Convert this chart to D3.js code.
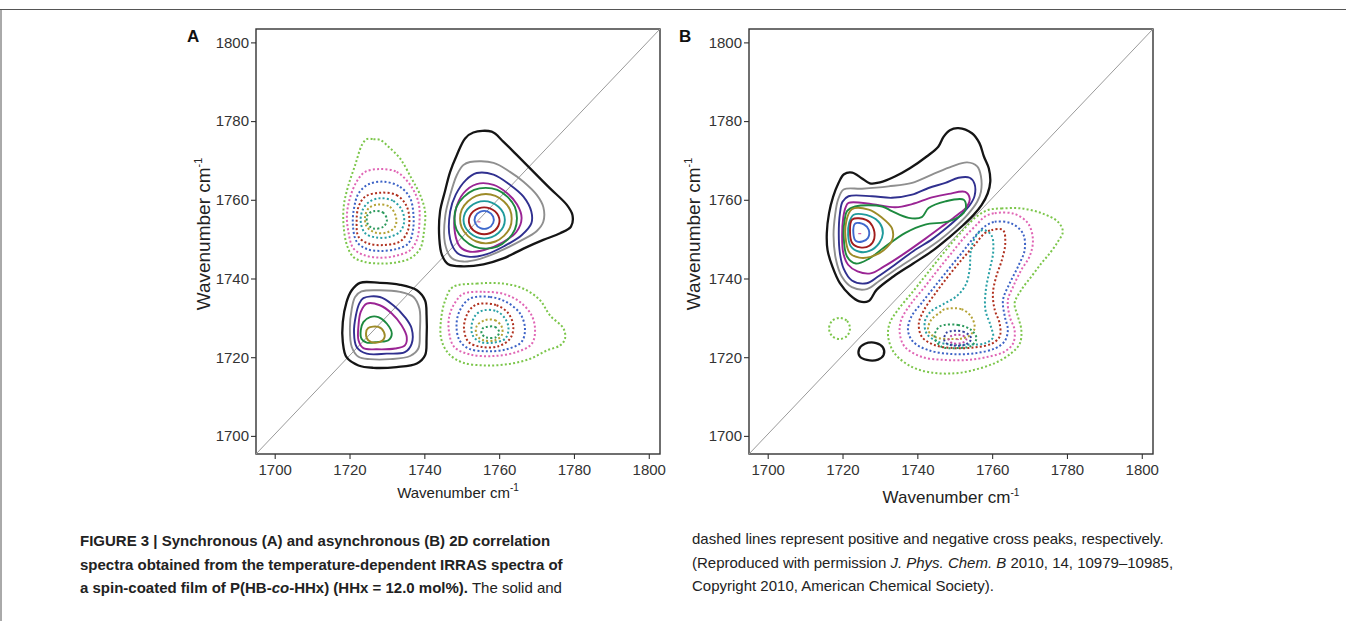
<!DOCTYPE html>
<html>
<head>
<meta charset="utf-8">
<script src="https://cdn.jsdelivr.net/npm/d3@7"></script>
<style>
  body { margin: 0; background: #fff; }
  svg { display: block; font-family: "Liberation Sans", Arial, Helvetica, sans-serif; }
</style>
</head>
<body>
<svg id="fig" width="1346" height="621"></svg>
<script>
// ---- data (wavenumbers, cm-1) ----
var axisTicks = [1700, 1720, 1740, 1760, 1780, 1800];
var axisDomainX = [1695, 1803];
var axisDomainY = [1695.4, 1803.4];

// synchronous map (A): auto peak at 1755/1755
var syncAutoHigh = [
  {level: 1, ring: [[1753.1,1777.1],[1758.0,1777.3],[1761.1,1774.8],[1764.7,1771.4],[1769.2,1767.1],[1773.6,1762.9],[1778.1,1758.7],[1779.6,1756.1],[1779.2,1753.2],[1776.3,1751.5],[1771.8,1749.8],[1766.5,1747.6],[1761.1,1745.1],[1755.8,1743.6],[1750.4,1743.1],[1746.4,1743.6],[1744.7,1746.0],[1744.0,1750.2],[1744.2,1757.0],[1745.5,1762.1],[1746.9,1767.1],[1748.7,1771.4],[1750.9,1775.6]]},
  {level: 2, ring: [[1752.2,1769.6],[1758.5,1769.4],[1762.9,1767.1],[1766.5,1764.6],[1770.1,1761.2],[1771.8,1758.2],[1771.8,1754.4],[1770.0,1752.0],[1765.6,1749.5],[1760.3,1747.0],[1754.9,1745.0],[1750.4,1744.3],[1747.3,1745.2],[1745.5,1749.0],[1745.6,1756.0],[1746.9,1761.2],[1748.7,1766.3],[1750.4,1768.8]]},
  {level: 3, ring: [[1754.0,1766.8],[1758.5,1766.4],[1762.9,1763.8],[1766.5,1760.8],[1768.6,1757.0],[1768.6,1754.0],[1766.0,1751.0],[1761.3,1748.2],[1756.7,1746.2],[1752.2,1745.5],[1748.8,1746.5],[1746.9,1750.0],[1746.9,1757.0],[1748.4,1761.3],[1751.1,1765.0]]},
  {level: 4, ring: [[1754.0,1764.0],[1758.5,1763.8],[1762.0,1761.8],[1764.8,1758.8],[1766.0,1755.3],[1764.6,1751.8],[1761.0,1749.2],[1756.2,1747.3],[1752.2,1746.8],[1749.6,1748.0],[1748.2,1751.5],[1748.4,1757.5],[1750.4,1761.6]]},
  {level: 5, ring: [[1753.3,1762.5],[1759.5,1762.5],[1764.2,1758.2],[1764.2,1752.4],[1759.5,1748.1],[1753.3,1748.1],[1748.6,1752.4],[1748.6,1758.2]]},
  {level: 6, ring: [[1753.9,1761.0],[1759.0,1761.0],[1762.9,1757.5],[1762.9,1752.9],[1759.0,1749.4],[1753.9,1749.4],[1750.0,1752.9],[1750.0,1757.5]]},
  {level: 7, ring: [[1754.0,1759.3],[1758.0,1759.3],[1761.1,1756.7],[1761.1,1753.1],[1758.0,1750.5],[1754.0,1750.5],[1750.9,1753.1],[1750.9,1756.7]]},
  {level: 8, ring: [[1754.5,1757.8],[1757.5,1757.8],[1759.8,1755.9],[1759.8,1753.4],[1757.5,1751.5],[1754.5,1751.5],[1752.2,1753.4],[1752.2,1755.9]]},
  {level: 9, ring: [[1755.0,1757.0],[1757.0,1757.0],[1758.4,1755.7],[1758.4,1754.1],[1757.0,1752.8],[1755.0,1752.8],[1753.6,1754.1],[1753.6,1755.7]]}
];

// synchronous map (A): auto peak at 1725/1725
var syncAutoLow = [
  {level: 1, ring: [[1722.8,1738.9],[1728.1,1738.9],[1733.5,1738.4],[1738.0,1737.0],[1740.2,1734.4],[1740.6,1730.6],[1740.6,1724.7],[1740.2,1720.5],[1738.0,1718.4],[1732.6,1717.5],[1726.4,1717.3],[1722.4,1717.9],[1719.2,1720.0],[1718.2,1723.9],[1718.2,1728.9],[1719.2,1734.0],[1720.6,1737.0]]},
  {level: 2, ring: [[1723.2,1736.7],[1728.1,1737.0],[1733.5,1736.6],[1737.1,1735.3],[1738.7,1732.3],[1738.8,1726.4],[1738.4,1722.2],[1736.2,1720.3],[1730.8,1719.5],[1725.5,1719.5],[1722.4,1720.1],[1720.6,1722.6],[1720.1,1727.3],[1720.6,1732.3],[1721.5,1735.3]]},
  {level: 3, ring: [[1723.7,1735.0],[1728.1,1735.3],[1731.7,1733.2],[1734.8,1730.2],[1736.6,1727.3],[1736.6,1723.4],[1734.8,1721.3],[1729.9,1720.9],[1724.6,1720.9],[1721.9,1722.6],[1721.2,1726.4],[1721.7,1730.6],[1722.6,1733.6]]},
  {level: 4, ring: [[1724.6,1733.6],[1728.1,1733.2],[1731.3,1731.1],[1733.9,1728.1],[1735.3,1725.1],[1734.8,1723.0],[1732.2,1722.2],[1727.3,1722.0],[1723.7,1722.3],[1722.4,1724.3],[1722.4,1728.1],[1723.0,1731.5]]},
  {level: 5, ring: [[1725.5,1730.2],[1727.7,1730.2],[1730.0,1728.5],[1731.3,1726.0],[1730.4,1724.3],[1727.7,1723.9],[1724.6,1723.7],[1723.2,1724.7],[1723.0,1726.8],[1723.7,1728.9]]},
  {level: 6, ring: [[1725.0,1727.4],[1727.7,1727.7],[1729.2,1726.4],[1729.2,1724.7],[1727.3,1723.7],[1725.0,1724.3],[1724.4,1726.0]]}
];

// synchronous map (A): cross peak at 1725/1755 (negative)
var syncCrossUpper = [
  {level: -1, ring: [[1724.6,1775.4],[1726.4,1775.4],[1728.2,1775.2],[1730.4,1773.5],[1733.5,1770.5],[1736.6,1765.4],[1738.9,1761.2],[1740.2,1757.0],[1739.9,1751.9],[1738.9,1747.6],[1736.2,1745.1],[1732.6,1744.1],[1728.2,1743.8],[1723.7,1744.3],[1721.0,1745.5],[1719.3,1748.5],[1718.4,1753.6],[1718.5,1758.7],[1719.7,1763.7],[1721.5,1768.8],[1723.3,1773.9]]},
  {level: -2, ring: [[1728.2,1767.8],[1732.6,1767.1],[1736.2,1763.8],[1738.4,1759.5],[1738.7,1754.4],[1738.0,1749.8],[1736.2,1747.2],[1732.6,1745.8],[1728.2,1745.3],[1723.7,1746.0],[1721.0,1747.7],[1719.7,1751.9],[1719.3,1756.1],[1720.1,1760.4],[1721.9,1764.6],[1724.2,1767.1]]},
  {level: -3, ring: [[1729.1,1764.6],[1733.5,1763.3],[1736.2,1760.4],[1737.1,1756.1],[1736.9,1751.9],[1735.7,1748.9],[1732.6,1747.5],[1728.2,1747.0],[1724.6,1747.5],[1721.9,1749.4],[1720.9,1753.6],[1721.2,1757.8],[1722.4,1761.6],[1725.0,1763.9]]},
  {level: -4, ring: [[1728.2,1761.8],[1732.6,1761.2],[1735.1,1758.7],[1736.0,1755.3],[1735.5,1751.9],[1733.5,1749.4],[1729.1,1748.5],[1725.0,1748.9],[1722.4,1750.6],[1721.9,1754.4],[1722.4,1758.2],[1724.2,1760.8]]},
  {level: -5, ring: [[1728.2,1760.4],[1731.7,1759.7],[1734.0,1757.4],[1734.6,1754.4],[1733.5,1751.9],[1730.8,1750.6],[1727.3,1750.4],[1724.2,1751.5],[1723.0,1754.4],[1723.5,1757.4],[1725.3,1759.5]]},
  {level: -6, ring: [[1727.7,1758.8],[1730.8,1758.2],[1732.4,1755.7],[1732.2,1753.2],[1730.0,1751.7],[1726.8,1751.7],[1724.6,1753.2],[1724.2,1756.0],[1725.3,1758.0]]},
  {level: -7, ring: [[1726.4,1757.1],[1728.9,1756.8],[1730.0,1754.9],[1729.1,1753.2],[1726.4,1752.7],[1724.8,1754.0],[1724.8,1756.1]]}
];

// synchronous map (A): cross peak at 1755/1725 (negative)
var syncCrossLower = [
  {level: -1, ring: [[1747.6,1737.8],[1754.0,1738.7],[1761.1,1738.7],[1766.5,1737.4],[1770.9,1734.5],[1773.6,1730.6],[1777.2,1727.3],[1777.6,1724.7],[1776.3,1723.0],[1772.7,1721.7],[1768.3,1719.6],[1762.9,1718.3],[1756.7,1717.9],[1750.4,1718.6],[1746.5,1720.9],[1744.5,1724.7],[1744.5,1729.8],[1745.6,1734.5]]},
  {level: -2, ring: [[1750.4,1736.1],[1755.8,1736.6],[1761.1,1736.1],[1765.6,1734.0],[1768.7,1730.6],[1769.6,1726.8],[1768.7,1723.4],[1764.7,1721.3],[1758.4,1720.3],[1752.2,1720.7],[1748.0,1722.6],[1746.6,1726.4],[1746.7,1730.6],[1748.3,1734.0]]},
  {level: -3, ring: [[1752.2,1734.9],[1757.6,1735.3],[1762.0,1734.0],[1765.6,1731.1],[1766.9,1727.3],[1766.0,1723.9],[1762.0,1722.0],[1756.7,1721.5],[1751.8,1722.2],[1749.4,1724.3],[1748.6,1728.1],[1749.5,1731.9]]},
  {level: -4, ring: [[1754.9,1733.6],[1759.3,1733.2],[1762.5,1731.1],[1763.8,1727.7],[1762.9,1724.7],[1759.8,1722.8],[1755.3,1722.6],[1751.8,1723.9],[1750.6,1727.3],[1751.3,1730.6],[1752.9,1732.8]]},
  {level: -5, ring: [[1755.8,1731.9],[1759.3,1731.7],[1761.6,1729.8],[1762.5,1727.3],[1761.6,1724.7],[1758.4,1723.7],[1754.9,1723.9],[1752.9,1725.6],[1752.7,1728.5],[1753.8,1730.8]]},
  {level: -6, ring: [[1756.2,1729.4],[1758.9,1729.4],[1760.7,1727.7],[1760.7,1725.6],[1758.9,1724.3],[1755.8,1724.3],[1754.0,1725.6],[1754.0,1727.9]]},
  {level: -7, ring: [[1756.7,1727.7],[1758.9,1727.7],[1760.0,1726.4],[1759.2,1725.1],[1756.7,1725.0],[1755.3,1726.0],[1755.6,1727.3]]}
];

// asynchronous map (B): positive band above the diagonal
var asyncPositive = [
  {level: 1, ring: [[1751.0,1778.2],[1754.6,1776.9],[1756.6,1774.4],[1757.8,1771.0],[1759.1,1768.0],[1759.5,1764.6],[1758.8,1761.6],[1757.2,1758.7],[1755.0,1756.1],[1752.3,1753.6],[1748.7,1750.6],[1744.3,1747.2],[1738.9,1743.8],[1733.6,1740.5],[1729.1,1737.1],[1727.0,1734.3],[1724.5,1734.2],[1722.0,1735.8],[1719.3,1738.8],[1717.3,1743.0],[1716.0,1747.2],[1715.8,1751.5],[1716.4,1756.6],[1717.5,1760.8],[1718.9,1764.2],[1720.4,1766.5],[1722.6,1766.9],[1725.1,1765.5],[1727.3,1764.2],[1730.0,1764.4],[1734.0,1765.9],[1738.0,1768.0],[1742.5,1771.0],[1745.6,1773.5],[1747.0,1776.0],[1748.7,1777.7]]},
  {level: 2, ring: [[1720.3,1762.6],[1725.2,1762.8],[1732.3,1763.4],[1738.6,1764.3],[1743.9,1766.4],[1749.3,1768.5],[1753.3,1769.5],[1756.0,1768.5],[1757.0,1766.0],[1757.0,1762.0],[1756.0,1759.5],[1753.5,1756.3],[1750.0,1753.0],[1746.0,1749.8],[1741.0,1746.5],[1735.0,1742.8],[1730.0,1739.5],[1726.5,1737.3],[1722.5,1737.8],[1719.8,1740.5],[1718.2,1745.0],[1717.6,1751.0],[1718.0,1756.0],[1718.8,1760.0]]},
  {level: 3, ring: [[1721.6,1760.9],[1727.9,1760.9],[1733.2,1760.5],[1738.6,1761.3],[1743.0,1763.0],[1747.5,1764.3],[1751.0,1765.6],[1754.0,1765.6],[1755.3,1764.0],[1755.3,1761.0],[1754.0,1758.6],[1751.5,1756.0],[1748.0,1753.0],[1744.0,1750.0],[1739.0,1747.0],[1734.0,1743.5],[1729.5,1740.5],[1726.5,1738.8],[1722.5,1739.5],[1720.3,1742.5],[1719.3,1746.4],[1719.0,1751.5],[1719.3,1756.5],[1720.0,1759.5]]},
  {level: 4, ring: [[1721.6,1759.2],[1727.9,1758.9],[1734.1,1758.1],[1738.6,1758.9],[1743.9,1760.6],[1748.4,1761.5],[1752.8,1762.0],[1754.0,1760.3],[1753.3,1758.3],[1750.5,1756.0],[1747.0,1753.5],[1742.0,1750.0],[1736.0,1746.0],[1731.0,1743.0],[1727.5,1741.3],[1724.0,1741.8],[1721.5,1743.5],[1720.2,1746.5],[1719.9,1751.0],[1720.2,1755.5],[1720.8,1758.0]]},
  {level: 5, ring: [[1721.2,1757.1],[1723.4,1758.3],[1730.6,1758.3],[1733.2,1757.1],[1737.7,1755.4],[1741.2,1755.6],[1743.0,1757.9],[1747.5,1759.6],[1752.4,1760.0],[1753.0,1758.1],[1752.4,1756.7],[1748.4,1754.5],[1742.1,1753.7],[1736.8,1751.6],[1731.0,1747.8],[1727.0,1745.0],[1723.6,1743.8],[1721.2,1745.6],[1720.3,1751.0],[1720.6,1755.0]]},
  {level: 6, ring: [[1722.5,1757.6],[1727.0,1757.5],[1730.5,1755.5],[1733.2,1752.8],[1733.3,1749.8],[1731.0,1747.2],[1727.5,1745.5],[1724.5,1745.3],[1722.0,1746.4],[1721.0,1749.0],[1721.0,1754.5]]},
  {level: 7, ring: [[1723.0,1756.2],[1727.5,1755.8],[1730.0,1754.0],[1730.8,1751.5],[1729.8,1749.0],[1727.2,1747.0],[1724.5,1746.8],[1722.2,1748.2],[1721.5,1751.0],[1721.8,1754.2]]},
  {level: 8, ring: [[1722.6,1755.0],[1726.3,1754.9],[1728.0,1753.3],[1728.5,1750.2],[1727.2,1748.3],[1724.7,1747.9],[1722.6,1749.0],[1722.0,1752.0]]},
  {level: 9, ring: [[1723.4,1754.0],[1725.8,1753.7],[1727.0,1752.4],[1726.8,1750.3],[1725.3,1749.4],[1723.6,1749.5],[1722.9,1751.5]]}
];

// asynchronous map (B): negative band below the diagonal
var asyncNegative = [
  {level: -1, ring: [[1758.9,1757.4],[1762.5,1757.8],[1767.8,1757.8],[1773.2,1756.6],[1777.6,1754.4],[1778.9,1751.9],[1777.6,1749.4],[1775.4,1746.4],[1773.2,1743.9],[1770.5,1740.5],[1767.8,1737.1],[1766.0,1733.7],[1766.9,1730.3],[1767.8,1726.9],[1767.4,1723.5],[1765.1,1721.0],[1760.7,1718.5],[1755.3,1716.8],[1750.0,1715.9],[1743.7,1716.1],[1738.4,1717.6],[1733.9,1721.0],[1732.2,1725.2],[1732.6,1728.6],[1734.8,1732.0],[1738.4,1736.2],[1742.0,1740.5],[1745.5,1744.7],[1749.1,1748.9],[1752.7,1752.8],[1755.8,1755.7]]},
  {level: -2, ring: [[1758.0,1755.7],[1760.7,1756.6],[1766.0,1756.4],[1769.6,1754.0],[1770.9,1749.8],[1770.0,1745.6],[1767.8,1742.2],[1765.6,1737.9],[1764.2,1734.5],[1764.7,1730.3],[1766.0,1726.9],[1765.6,1723.5],[1763.3,1721.4],[1758.9,1720.1],[1753.5,1719.3],[1747.3,1719.3],[1741.1,1720.1],[1736.6,1722.7],[1735.3,1726.1],[1735.7,1729.5],[1738.4,1733.7],[1742.0,1737.9],[1745.5,1742.2],[1749.1,1746.4],[1752.7,1750.6],[1756.2,1754.0]]},
  {level: -3, ring: [[1758.0,1753.2],[1760.7,1754.4],[1765.1,1754.0],[1768.2,1751.5],[1768.7,1747.3],[1766.9,1743.0],[1764.7,1738.8],[1762.9,1734.5],[1763.4,1730.3],[1764.2,1726.9],[1763.3,1724.0],[1760.7,1722.2],[1755.3,1721.0],[1749.1,1720.8],[1742.9,1721.8],[1738.8,1724.0],[1737.5,1726.9],[1738.4,1730.3],[1741.1,1733.7],[1744.6,1737.9],[1748.2,1742.2],[1751.8,1746.4],[1755.3,1750.6]]},
  {level: -4, ring: [[1758.0,1751.5],[1759.8,1752.3],[1762.9,1752.3],[1763.5,1748.9],[1762.6,1744.7],[1761.1,1740.5],[1760.2,1736.2],[1760.7,1732.0],[1762.0,1728.6],[1762.0,1725.2],[1759.8,1723.4],[1755.3,1722.5],[1750.0,1722.3],[1744.6,1723.1],[1741.2,1725.2],[1740.4,1728.6],[1741.8,1732.0],[1744.8,1736.2],[1748.2,1740.5],[1751.8,1744.7],[1755.3,1748.5]]},
  {level: -5, ring: [[1757.5,1752.3],[1759.8,1751.0],[1760.3,1747.0],[1759.3,1742.0],[1758.3,1737.0],[1758.2,1732.0],[1759.6,1728.0],[1760.2,1725.0],[1758.0,1723.5],[1754.0,1723.2],[1749.0,1723.2],[1745.3,1724.0],[1742.5,1726.0],[1742.0,1729.0],[1743.5,1731.5],[1747.0,1733.5],[1750.5,1735.5],[1753.0,1738.5],[1754.0,1742.5],[1754.3,1747.0],[1755.5,1750.5]]},
  {level: -6, ring: [[1747.3,1732.2],[1751.8,1732.2],[1754.4,1730.3],[1755.3,1727.3],[1753.5,1725.2],[1749.1,1724.6],[1744.6,1725.2],[1742.9,1726.9],[1743.7,1729.5],[1746.0,1731.3]]},
  {level: -7, ring: [[1746.0,1727.8],[1750.9,1728.2],[1754.4,1726.9],[1755.8,1724.8],[1754.4,1722.9],[1750.0,1722.3],[1746.4,1722.7],[1744.6,1725.2]]},
  {level: -8, ring: [[1747.8,1726.2],[1752.2,1726.5],[1754.4,1724.8],[1753.1,1723.3],[1749.5,1723.0],[1747.3,1724.0]]},
  {level: -9, ring: [[1749.1,1725.4],[1752.2,1725.5],[1753.1,1724.4],[1751.8,1723.6],[1749.3,1723.6],[1748.4,1724.4]]}
];

// asynchronous map (B): two small isolated islands
var asyncMinor = [
  {level: -1, ring: [[1719.2,1730.0],[1721.2,1729.2],[1722.0,1727.3],[1721.2,1725.4],[1719.2,1724.6],[1717.2,1725.4],[1716.4,1727.3],[1717.2,1729.2]]},
  {level: 1, ring: [[1726.0,1723.4],[1729.0,1723.6],[1730.8,1722.5],[1731.0,1720.6],[1729.5,1719.4],[1726.5,1719.3],[1724.6,1720.2],[1724.4,1722.0]]}
];

// tiny marks at the peak maxima
var syncPeakMarks = [[1754.6, 1754.4]];
var asyncPeakMarks = [[1724.6, 1751.4], [1750.7, 1724.5]];

var captionLeft = [
  [{t: 'FIGURE 3 | Synchronous (A) and asynchronous (B) 2D correlation', b: 1}],
  [{t: 'spectra obtained from the temperature-dependent IRRAS spectra of', b: 1}],
  [{t: 'a spin-coated film of P(HB-', b: 1}, {t: 'co', b: 1, i: 1}, {t: '-HHx) (HHx = 12.0 mol%).', b: 1}, {t: ' The solid and'}]
];
var captionRight = [
  [{t: 'dashed lines represent positive and negative cross peaks, respectively.'}],
  [{t: '(Reproduced with permission '}, {t: 'J. Phys. Chem. B', i: 1}, {t: ' 2010, 14, 10979\u201310985,'}],
  [{t: 'Copyright 2010, American Chemical Society).'}]
];

// ---- styles ----
var levelColor = {
  '1': '#151515', '2': '#8f8f8f', '3': '#30308f', '4': '#9a2494', '5': '#1d8a3f',
  '6': '#9d8b28', '7': '#1f9a9c', '8': '#a11c1c', '9': '#3e68cc',
  '-1': '#7cc64b', '-2': '#e066b5', '-3': '#3d63c6', '-4': '#b0301e', '-5': '#28a0a5',
  '-6': '#b4a335', '-7': '#2c9a5d', '-8': '#34419d', '-9': '#c24da4'
};

var svg = d3.select('#fig');

// figure frame lines
svg.append('line').attr('x1', 0).attr('x2', 1346).attr('y1', 9.5).attr('y2', 9.5)
  .attr('stroke', '#555').attr('stroke-width', 1);
svg.append('line').attr('x1', 1).attr('x2', 1).attr('y1', 9.5).attr('y2', 621)
  .attr('stroke', '#555').attr('stroke-width', 1);

function drawPanel(opt) {
  var left = opt.left, top = 29, w = 404, h = 425;
  var x = d3.scaleLinear().domain(axisDomainX).range([left, left + w]);
  var y = d3.scaleLinear().domain(axisDomainY).range([top + h, top]);
  var g = svg.append('g');

  g.append('rect').attr('x', left).attr('y', top).attr('width', w).attr('height', h)
    .attr('fill', '#fff').attr('stroke', '#333').attr('stroke-width', 1.4);

  g.append('line')
    .attr('x1', x.range()[0]).attr('y1', y.range()[0])
    .attr('x2', x.range()[1]).attr('y2', y.range()[1])
    .attr('stroke', '#9a9a9a').attr('stroke-width', 1);

  var line = d3.line()
    .x(function (d) { return x(d[0]); })
    .y(function (d) { return y(d[1]); })
    .curve(d3.curveCatmullRomClosed.alpha(0.5));

  opt.sets.forEach(function (set) {
    g.append('g').selectAll('path').data(set).enter().append('path')
      .attr('d', function (d) { return line(d.ring); })
      .attr('fill', 'none')
      .attr('stroke', function (d) { return levelColor[d.level]; })
      .attr('stroke-width', function (d) { return d.level === 1 ? 2.3 : (d.level > 0 ? 1.9 : 2); })
      .attr('stroke-dasharray', function (d) { return d.level < 0 ? '2,2.2' : null; })
      .attr('stroke-linejoin', 'round');
  });

  g.selectAll('.mark').data(opt.marks).enter().append('line')
    .attr('x1', function (d) { return x(d[0]) - 1.5; })
    .attr('x2', function (d) { return x(d[0]) + 1.5; })
    .attr('y1', function (d) { return y(d[1]); })
    .attr('y2', function (d) { return y(d[1]); })
    .attr('stroke', '#d060a8').attr('stroke-width', 1.2);

  var ax = g.append('g').attr('transform', 'translate(0,' + (top + h) + ')')
    .call(d3.axisBottom(x).tickValues(axisTicks).tickSize(5).tickPadding(5).tickFormat(d3.format('d')));
  var ay = g.append('g').attr('transform', 'translate(' + left + ',0)')
    .call(d3.axisLeft(y).tickValues(axisTicks).tickSize(5).tickPadding(2).tickFormat(d3.format('d')));
  [ax, ay].forEach(function (a) {
    a.select('.domain').remove();
    a.selectAll('line').attr('stroke', '#333').attr('stroke-width', 1.1);
    a.selectAll('text').attr('font-size', 15).attr('fill', '#333')
      .attr('font-family', '"Liberation Sans", Arial, sans-serif');
  });

  g.append('text').attr('x', opt.labelX).attr('y', 42)
    .attr('font-size', 17).attr('font-weight', 'bold').attr('fill', '#111').text(opt.label);

  var yt = g.append('text')
    .attr('transform', 'translate(' + opt.yTitleX + ',' + 234 + ') rotate(-90)')
    .attr('text-anchor', 'middle').attr('font-size', 19).attr('fill', '#222');
  yt.append('tspan').text('Wavenumber cm');
  yt.append('tspan').attr('font-size', 11).attr('dy', -8).text('-1');

  var xt = g.append('text').attr('x', left + w / 2).attr('y', opt.xTitleY)
    .attr('text-anchor', 'middle').attr('font-size', opt.xTitleSize).attr('fill', '#222');
  xt.append('tspan').text('Wavenumber cm');
  xt.append('tspan').attr('font-size', 10).attr('dy', -7).text('-1');
}

drawPanel({left: 256, label: 'A', labelX: 187, yTitleX: 210, xTitleY: 498, xTitleSize: 15,
  sets: [syncAutoHigh, syncAutoLow, syncCrossUpper, syncCrossLower], marks: syncPeakMarks});
drawPanel({left: 749, label: 'B', labelX: 679, yTitleX: 700, xTitleY: 503, xTitleSize: 17,
  sets: [asyncPositive, asyncNegative, asyncMinor], marks: asyncPeakMarks});

function caption(lines, x0, y0) {
  lines.forEach(function (segs, i) {
    var t = svg.append('text').attr('x', x0).attr('y', y0 + i * 23.5)
      .attr('font-size', 15).attr('fill', '#222');
    segs.forEach(function (s) {
      t.append('tspan').attr('font-weight', s.b ? 'bold' : 'normal')
        .attr('font-style', s.i ? 'italic' : 'normal').text(s.t);
    });
  });
}
caption(captionLeft, 80, 546);
caption(captionRight, 692, 544);
</script>
</body>
</html>
